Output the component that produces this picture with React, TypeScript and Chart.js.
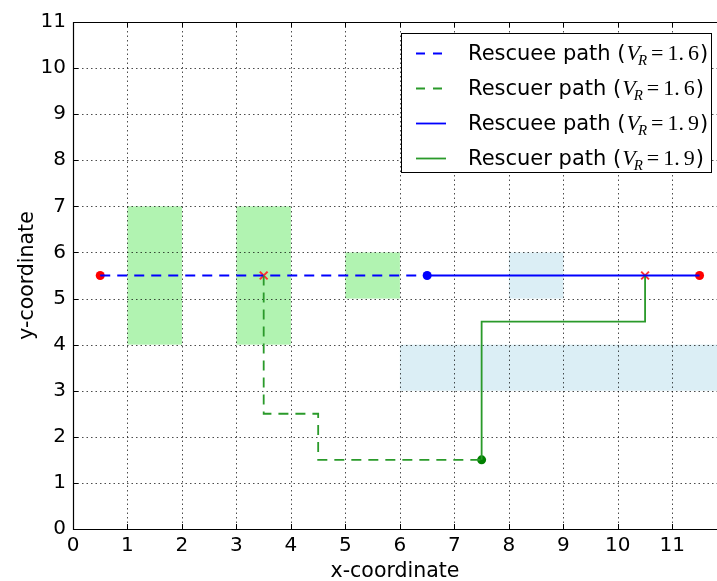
import React, { useEffect, useRef } from 'react';
import { Chart, registerables } from 'chart.js';

Chart.register(...registerables);

// ---- data ----
const X_TICKS = [0, 1, 2, 3, 4, 5, 6, 7, 8, 9, 10, 11];
const Y_TICKS = [0, 1, 2, 3, 4, 5, 6, 7, 8, 9, 10, 11];
const X_MIN = 0;
const X_MAX = 11.82;
const Y_MIN = 0;
const Y_MAX = 11;

// green obstacle cells
const GREEN_X1 = [1, 3, 5];
const GREEN_X2 = [2, 4, 6];
const GREEN_Y1 = [4, 4, 5];
const GREEN_Y2 = [7, 7, 6];
// light blue cells
const BLUE_X1 = [8, 6];
const BLUE_X2 = [9, 12];
const BLUE_Y1 = [5, 3];
const BLUE_Y2 = [6, 4];

// paths
const RESCUEE_16_X = [0.5, 6.5];
const RESCUEE_16_Y = [5.5, 5.5];
const RESCUER_16_X = [3.5, 3.5, 4.5, 4.5, 7.5];
const RESCUER_16_Y = [5.5, 2.5, 2.5, 1.5, 1.5];
const RESCUEE_19_X = [6.5, 11.5];
const RESCUEE_19_Y = [5.5, 5.5];
const RESCUER_19_X = [7.5, 7.5, 10.5, 10.5];
const RESCUER_19_Y = [1.5, 4.5, 4.5, 5.5];

// markers
const RED_DOT_X = [0.5, 11.5];
const RED_DOT_Y = [5.5, 5.5];
const BLUE_DOT_X = [6.5];
const BLUE_DOT_Y = [5.5];
const GREEN_DOT_X = [7.5];
const GREEN_DOT_Y = [1.5];
const RED_X_X = [3.5, 10.5];
const RED_X_Y = [5.5, 5.5];

// legend
const LEGEND_LABELS = ['Rescuee path', 'Rescuer path', 'Rescuee path', 'Rescuer path'];
const LEGEND_VR = ['1.6', '1.6', '1.9', '1.9'];
const LEGEND_COLORS = ['#0000ff', '#2a9a2a', '#0000ff', '#2a9a2a'];
const LEGEND_DASHED = [true, true, false, false];

const toPts = (xs: number[], ys: number[]) => xs.map((x, i) => ({ x, y: ys[i] }));

const SANS = '"DejaVu Sans", sans-serif';
const SERIF = '"Liberation Serif", "DejaVu Serif", serif';

export default function App() {
  const ref = useRef<HTMLCanvasElement | null>(null);

  useEffect(() => {
    const canvas = ref.current;
    if (!canvas) return;

    const backgroundPlugin = {
      id: 'bgcells',
      beforeDatasetsDraw(chart: any) {
        const { ctx, chartArea: a, scales } = chart;
        const xs = scales.x;
        const ys = scales.y;
        ctx.save();
        ctx.beginPath();
        ctx.rect(a.left, a.top, a.right - a.left, a.bottom - a.top);
        ctx.clip();
        const drawCells = (x1: number[], x2: number[], y1: number[], y2: number[], color: string) => {
          ctx.fillStyle = color;
          for (let i = 0; i < x1.length; i++) {
            const px1 = xs.getPixelForValue(x1[i]);
            const px2 = xs.getPixelForValue(x2[i]);
            const py1 = ys.getPixelForValue(y1[i]);
            const py2 = ys.getPixelForValue(y2[i]);
            ctx.fillRect(px1, py2, px2 - px1, py1 - py2);
          }
        };
        drawCells(BLUE_X1, BLUE_X2, BLUE_Y1, BLUE_Y2, '#dbeef5');
        drawCells(GREEN_X1, GREEN_X2, GREEN_Y1, GREEN_Y2, '#b1f3b1');

        // dotted grid
        ctx.strokeStyle = 'rgba(0,0,0,0.7)';
        ctx.lineWidth = 1;
        ctx.setLineDash([1.5, 3]);
        for (const v of X_TICKS) {
          if (v === X_MIN) continue;
          const px = Math.round(xs.getPixelForValue(v)) + 0.5;
          ctx.beginPath();
          ctx.moveTo(px, a.top);
          ctx.lineTo(px, a.bottom);
          ctx.stroke();
        }
        for (const v of Y_TICKS) {
          if (v === Y_MIN || v === Y_MAX) continue;
          const py = Math.round(ys.getPixelForValue(v)) + 0.5;
          ctx.beginPath();
          ctx.moveTo(a.left, py);
          ctx.lineTo(a.right, py);
          ctx.stroke();
        }
        ctx.setLineDash([]);

        // inward tick marks
        ctx.strokeStyle = '#000';
        const tl = 5;
        for (const v of X_TICKS) {
          const px = Math.round(xs.getPixelForValue(v)) + 0.5;
          ctx.beginPath();
          ctx.moveTo(px, a.bottom);
          ctx.lineTo(px, a.bottom - tl);
          ctx.moveTo(px, a.top);
          ctx.lineTo(px, a.top + tl);
          ctx.stroke();
        }
        for (const v of Y_TICKS) {
          const py = Math.round(ys.getPixelForValue(v)) + 0.5;
          ctx.beginPath();
          ctx.moveTo(a.left, py);
          ctx.lineTo(a.left + tl, py);
          ctx.stroke();
        }
        ctx.restore();

        // frame
        ctx.save();
        ctx.strokeStyle = '#000';
        ctx.lineWidth = 1.2;
        ctx.beginPath();
        ctx.moveTo(a.right + 5, Math.round(a.top) + 0.5);
        ctx.lineTo(Math.round(a.left) + 0.5, Math.round(a.top) + 0.5);
        ctx.lineTo(Math.round(a.left) + 0.5, Math.round(a.bottom) + 0.5);
        ctx.lineTo(a.right + 5, Math.round(a.bottom) + 0.5);
        ctx.stroke();
        ctx.restore();
      },
    };

    const legendPlugin = {
      id: 'mathlegend',
      afterDatasetsDraw(chart: any) {
        const ctx = chart.ctx;
        const bx = 401.5, by = 33.5, bw = 310, bh = 139;
        ctx.save();
        ctx.fillStyle = '#fff';
        ctx.fillRect(bx, by, bw, bh);
        ctx.strokeStyle = '#000';
        ctx.lineWidth = 1;
        ctx.strokeRect(bx, by, bw, bh);
        const rowY = [53, 88, 123, 158];
        for (let i = 0; i < LEGEND_LABELS.length; i++) {
          const y = rowY[i];
          ctx.strokeStyle = LEGEND_COLORS[i];
          ctx.lineWidth = 1.8;
          ctx.setLineDash(LEGEND_DASHED[i] ? [9, 8] : []);
          ctx.beginPath();
          ctx.moveTo(416, y + 0.5);
          ctx.lineTo(446, y + 0.5);
          ctx.stroke();
          ctx.setLineDash([]);

          ctx.fillStyle = '#000';
          ctx.textBaseline = 'alphabetic';
          ctx.textAlign = 'left';
          const base = y + 7;
          let x = 468;
          ctx.font = `21px ${SANS}`;
          const t1 = LEGEND_LABELS[i] + ' (';
          ctx.fillText(t1, x, base);
          x += ctx.measureText(t1).width + 1;
          ctx.font = `italic 22px ${SERIF}`;
          ctx.fillText('V', x, base);
          x += ctx.measureText('V').width - 2;
          ctx.font = `italic 15px ${SERIF}`;
          ctx.fillText('R', x, base + 5);
          x += ctx.measureText('R').width + 4;
          ctx.font = `22px ${SERIF}`;
          ctx.fillText('=', x, base);
          x += ctx.measureText('=').width + 4;
          const [a, b] = LEGEND_VR[i].split('.');
          ctx.fillText(a + '.', x, base);
          x += ctx.measureText(a + '.').width + 4;
          ctx.fillText(b, x, base);
          x += ctx.measureText(b).width + 1;
          ctx.font = `21px ${SANS}`;
          ctx.fillText(')', x, base);
        }
        ctx.restore();
      },
    };

    const lineDs = (label: string, xs: number[], ys: number[], color: string, dashed: boolean) => ({
      label,
      data: toPts(xs, ys),
      showLine: true,
      borderColor: color,
      borderWidth: 1.8,
      borderDash: dashed ? [10, 7] : [],
      pointRadius: 0,
      fill: false,
      tension: 0,
    });
    const markDs = (label: string, xs: number[], ys: number[], color: string, style: string, r: number) => ({
      label,
      data: toPts(xs, ys),
      showLine: false,
      pointStyle: style,
      pointRadius: r,
      pointBackgroundColor: color,
      pointBorderColor: color,
      pointBorderWidth: style === 'crossRot' ? 2 : 0,
    });

    const chart = new Chart(canvas, {
      type: 'scatter',
      data: {
        datasets: [
          lineDs('Rescuee path (V_R=1.6)', RESCUEE_16_X, RESCUEE_16_Y, '#0000ff', true),
          lineDs('Rescuer path (V_R=1.6)', RESCUER_16_X, RESCUER_16_Y, '#2a9a2a', true),
          lineDs('Rescuee path (V_R=1.9)', RESCUEE_19_X, RESCUEE_19_Y, '#0000ff', false),
          lineDs('Rescuer path (V_R=1.9)', RESCUER_19_X, RESCUER_19_Y, '#2a9a2a', false),
          markDs('start/end', RED_DOT_X, RED_DOT_Y, '#ff0000', 'circle', 4.5),
          markDs('rescuee start', BLUE_DOT_X, BLUE_DOT_Y, '#0000ff', 'circle', 4.5),
          markDs('rescuer start', GREEN_DOT_X, GREEN_DOT_Y, '#008000', 'circle', 4.5),
          markDs('meeting', RED_X_X, RED_X_Y, '#ff3030', 'crossRot', 5.5),
        ] as any,
      },
      options: {
        responsive: false,
        animation: false,
        devicePixelRatio: 1,
        layout: { autoPadding: false, padding: { top: 22, right: 0, bottom: 0, left: 0 } },
        plugins: {
          legend: { display: false },
          tooltip: { enabled: false },
        },
        scales: {
          x: {
            type: 'linear',
            min: X_MIN,
            max: X_MAX,
            afterBuildTicks: (scale: any) => {
              scale.ticks = X_TICKS.map((v) => ({ value: v }));
            },
            afterFit: (scale: any) => {
              scale.height = 52;
              scale.paddingRight = 0;
              scale.paddingLeft = 0;
            },
            grid: { display: false, drawTicks: false },
            border: { display: false },
            ticks: {
              color: '#000',
              font: { family: SANS, size: 20 },
              padding: 5,
              maxRotation: 0,
              autoSkip: false,
            },
            title: {
              display: true,
              text: 'x-coordinate',
              color: '#000',
              font: { family: SANS, size: 20.5 },
              padding: { top: 0, bottom: -3 },
            },
          },
          y: {
            type: 'linear',
            min: Y_MIN,
            max: Y_MAX,
            afterBuildTicks: (scale: any) => {
              scale.ticks = Y_TICKS.map((v) => ({ value: v }));
            },
            afterFit: (scale: any) => {
              scale.width = 73;
              scale.paddingTop = 0;
              scale.paddingBottom = 0;
            },
            grid: { display: false, drawTicks: false },
            border: { display: false },
            ticks: {
              color: '#000',
              font: { family: SANS, size: 20 },
              padding: 7,
              autoSkip: false,
            },
            title: {
              display: true,
              text: 'y-coordinate',
              color: '#000',
              font: { family: SANS, size: 20.5 },
              padding: { top: 15, bottom: 0 },
            },
          },
        },
      } as any,
      plugins: [backgroundPlugin, legendPlugin],
    });

    return () => chart.destroy();
  }, []);

  return (
    <div style={{ position: 'fixed', left: 0, top: 0, width: 717, height: 581, background: '#fff' }}>
      <canvas ref={ref} width={717} height={581} style={{ display: 'block', width: 717, height: 581 }} />
    </div>
  );
}
